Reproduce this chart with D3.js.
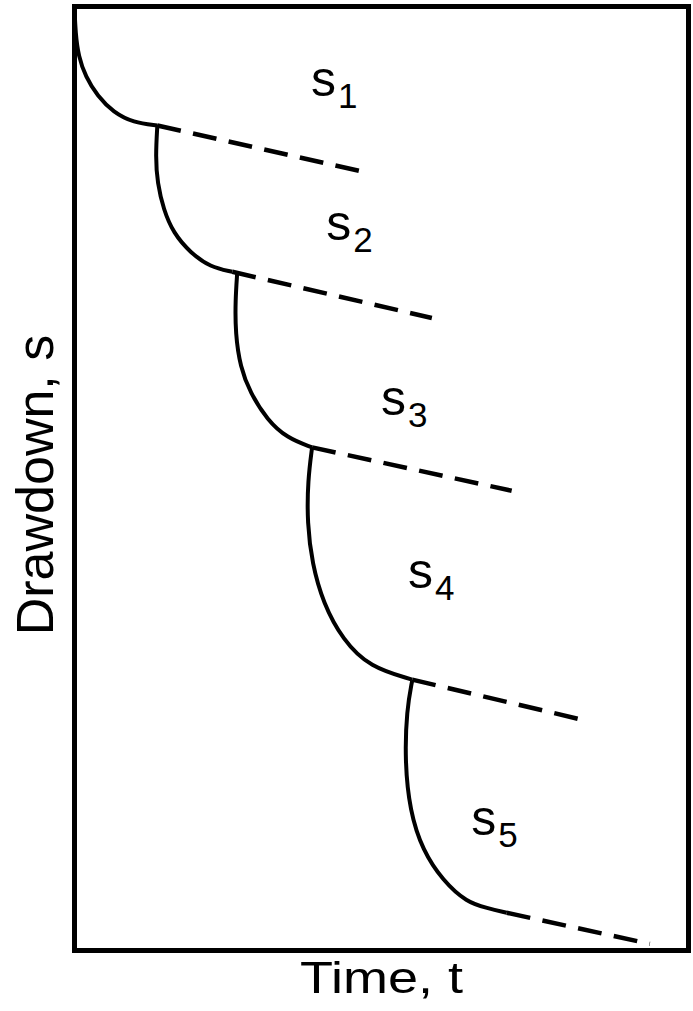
<!DOCTYPE html>
<html>
<head>
<meta charset="utf-8">
<script src="https://cdn.jsdelivr.net/npm/d3@7.9.0/dist/d3.min.js"></script>
<style>
  html, body { margin: 0; padding: 0; background: #fff; }
  svg { display: block; }
  text { font-family: "Liberation Sans", Arial, sans-serif; fill: #000; }
</style>
</head>
<body>
<svg id="chart" width="693" height="1011"></svg>
<script>
// step drawdown: time (0-100) vs drawdown (0-100)

// each pumping step: points along the solid curve
const stepTimes = [
  [0, 0.16, 0.65, 1.79, 3.74, 6.34, 9.59, 13.5],
  [13.5, 13.2, 13.5, 14.5, 16.1, 18.9, 22.1, 25.7],
  [26.5, 26.2, 26.2, 27.0, 28.6, 31.4, 34.6, 38.7],
  [38.7, 38.0, 37.9, 38.7, 40.5, 43.7, 48.1, 55.0],
  [55.0, 54.1, 53.8, 54.6, 56.7, 60.0, 63.9, 67.2, 70.4],
];
const stepDrawdowns = [
  [0.1, 2.8, 5.3, 7.4, 9.5, 11.2, 12.3, 12.6],
  [12.5, 15.9, 18.7, 21.5, 24.0, 26.1, 27.6, 28.1],
  [28.2, 31.1, 34.6, 38.2, 40.9, 43.8, 45.7, 46.7],
  [46.7, 50.2, 54.7, 59.0, 63.2, 67.1, 70.0, 71.3],
  [71.4, 74.5, 79.9, 85.2, 89.4, 92.6, 94.9, 95.5, 96.0],
];

// extrapolated (dashed) lines: start/end
const extrapTimes = [[13.5, 47.0], [25.7, 58.2], [38.7, 71.2], [55.0, 82.3], [70.4, 93.7]];
const extrapDrawdowns = [[12.6, 17.5], [28.1, 33.0], [46.7, 51.3], [71.3, 75.5], [96.0, 99.3]];

// labels s1..s5
const labelNames = ['s', 's', 's', 's', 's'];
const labelSubs = ['1', '2', '3', '4', '5'];
const labelTimes = [38.5, 41.0, 49.9, 54.3, 64.6];
const labelDrawdowns = [9.5, 24.7, 43.3, 61.6, 87.8];

const xTitle = 'Time, t';
const yTitle = 'Drawdown, s';

const svg = d3.select('#chart');
const frameL = 74.5, frameR = 688.5, frameT = 6.5, frameB = 950.5;

const x = d3.scaleLinear().domain([0, 100]).range([frameL, frameR]);
const y = d3.scaleLinear().domain([0, 100]).range([frameT, frameB]);

const line = d3.line()
  .x((d) => x(d[0]))
  .y((d) => y(d[1]))
  .curve(d3.curveBasis);

// dashed extrapolations
extrapTimes.forEach((ts, i) => {
  const pts = ts.map((t, j) => [t, extrapDrawdowns[i][j]]);
  svg.append('path')
    .attr('d', d3.line().x((d) => x(d[0])).y((d) => y(d[1]))(pts))
    .attr('fill', 'none')
    .attr('stroke', '#000')
    .attr('stroke-width', 4.5)
    .attr('stroke-dasharray', '24,12.5');
});

// solid drawdown curves
stepTimes.forEach((ts, i) => {
  const pts = ts.map((t, j) => [t, stepDrawdowns[i][j]]);
  svg.append('path')
    .attr('d', line(pts))
    .attr('fill', 'none')
    .attr('stroke', '#000')
    .attr('stroke-width', 4)
    .attr('stroke-linecap', 'butt');
});

// frame
svg.append('rect')
  .attr('x', frameL)
  .attr('y', frameT)
  .attr('width', frameR - frameL)
  .attr('height', frameB - frameT)
  .attr('fill', 'none')
  .attr('stroke', '#000')
  .attr('stroke-width', 5);

// step labels
labelNames.forEach((name, i) => {
  const t = svg.append('text')
    .attr('x', x(labelTimes[i]))
    .attr('y', y(labelDrawdowns[i]))
    .attr('font-size', 50);
  t.append('tspan').text(name);
  t.append('tspan')
    .attr('font-size', 35)
    .attr('dx', 2)
    .attr('dy', 12)
    .text(labelSubs[i]);
});

// axis titles
svg.append('text')
  .attr('x', 300)
  .attr('y', 993)
  .attr('font-size', 44)
  .attr('textLength', 163)
  .attr('lengthAdjust', 'spacingAndGlyphs')
  .text(xTitle);

svg.append('text')
  .attr('transform', 'translate(53,485) rotate(-90)')
  .attr('text-anchor', 'middle')
  .attr('font-size', 52)
  .text(yTitle);
</script>
</body>
</html>
